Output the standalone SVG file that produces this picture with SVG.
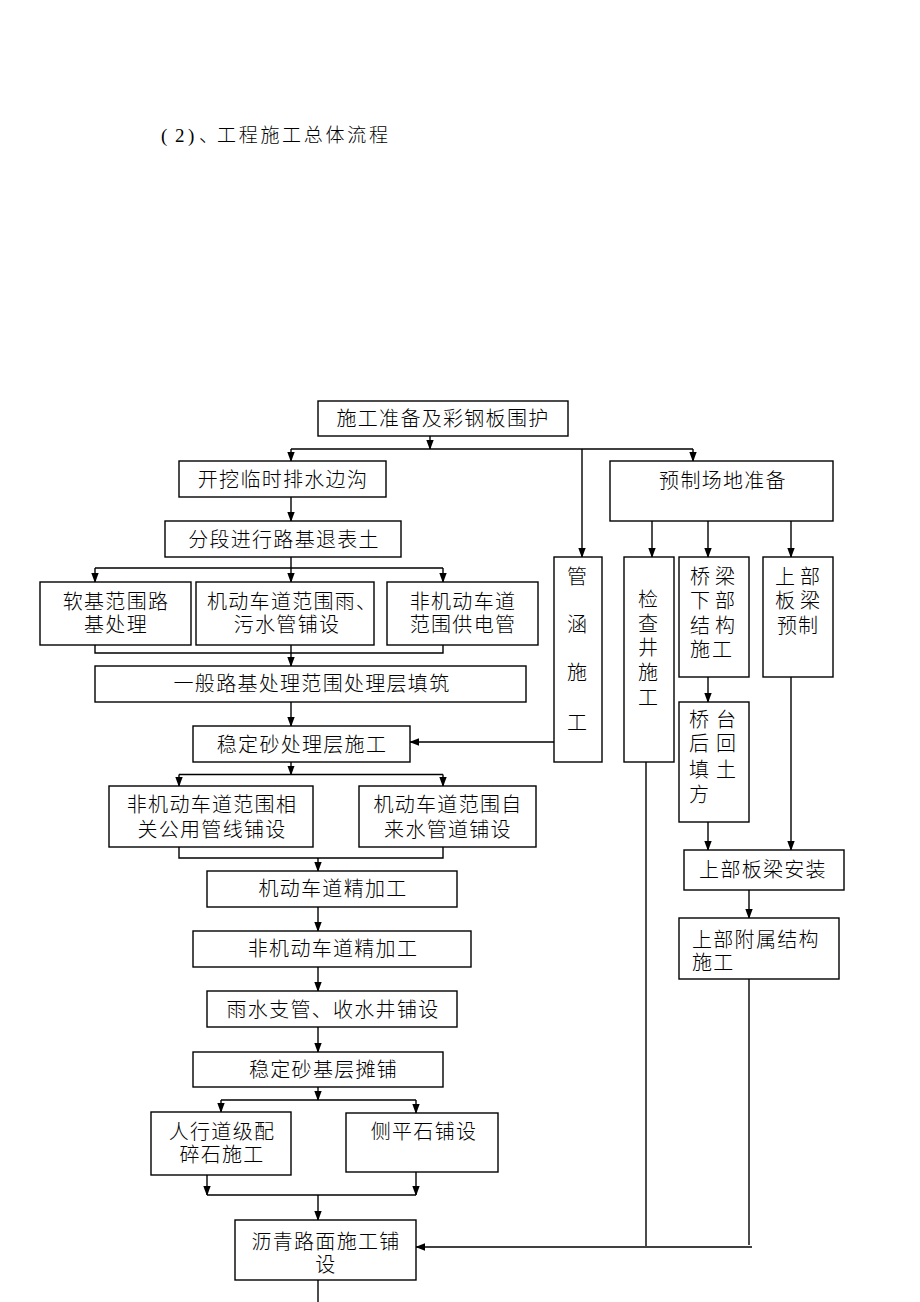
<svg xmlns="http://www.w3.org/2000/svg" width="920" height="1302" viewBox="0 0 920 1302">
<style>
.b{fill:#fff;stroke:#000;stroke-width:1.4}
.t{font-family:"Liberation Serif","Noto Sans CJK SC",serif;font-size:20px;font-weight:300;letter-spacing:1.3px;fill:#000;dominant-baseline:central}
.m{text-anchor:middle}
.c{fill:none;stroke:#000;stroke-width:1.4}
.v{font-family:"Liberation Serif","Noto Sans CJK SC",serif;font-size:20px;font-weight:300;fill:#000;dominant-baseline:central;text-anchor:middle}
</style>
<defs>
<marker id="ah" markerWidth="9" markerHeight="8" refX="9" refY="4" orient="auto" markerUnits="userSpaceOnUse"><path d="M0,0.3 L10,4 L0,7.7 z" fill="#000"/></marker>
</defs>
<rect width="920" height="1302" fill="#fff"/>
<text id="title" class="v" style="text-anchor:start;font-size:19px" y="135"><tspan x="161">(</tspan><tspan x="175">2</tspan><tspan x="188">)</tspan><tspan x="199">、</tspan><tspan x="217" letter-spacing="2.7">工程施工总体流程</tspan></text>

<g id="connectors">
<path class="c" d="M430,436 V449" marker-end="url(#ah)"/>
<path class="c" d="M291,449 H693"/>
<path class="c" d="M291,449 V461" marker-end="url(#ah)"/>
<path class="c" d="M582,449 V557" marker-end="url(#ah)"/>
<path class="c" d="M693,449 V461" marker-end="url(#ah)"/>
<path class="c" d="M291,497 V521" marker-end="url(#ah)"/>
<path class="c" d="M291,557 V568 M95,568 H443"/>
<path class="c" d="M95,568 V582" marker-end="url(#ah)"/>
<path class="c" d="M291,568 V582" marker-end="url(#ah)"/>
<path class="c" d="M443,568 V582" marker-end="url(#ah)"/>
<path class="c" d="M95,645 V653 H443 V645"/>
<path class="c" d="M291,645 V666" marker-end="url(#ah)"/>
<path class="c" d="M291,702 V726" marker-end="url(#ah)"/>
<path class="c" d="M554,742 H410" marker-end="url(#ah)"/>
<path class="c" d="M291,762 V774.5" marker-end="url(#ah)"/>
<path class="c" d="M179,774.5 H443"/>
<path class="c" d="M179,774.5 V786" marker-end="url(#ah)"/>
<path class="c" d="M443,774.5 V786" marker-end="url(#ah)"/>
<path class="c" d="M179,847 V858 H443 V847"/>
<path class="c" d="M318,858 V871" marker-end="url(#ah)"/>
<path class="c" d="M318,907 V931" marker-end="url(#ah)"/>
<path class="c" d="M318,967 V991" marker-end="url(#ah)"/>
<path class="c" d="M318,1027 V1052" marker-end="url(#ah)"/>
<path class="c" d="M318,1087 V1100" marker-end="url(#ah)"/>
<path class="c" d="M221,1100 H416"/>
<path class="c" d="M221,1100 V1112" marker-end="url(#ah)"/>
<path class="c" d="M416,1100 V1113" marker-end="url(#ah)"/>
<path class="c" d="M207,1175 V1195" marker-end="url(#ah)"/>
<path class="c" d="M416,1172 V1195" marker-end="url(#ah)"/>
<path class="c" d="M207,1195 H416"/>
<path class="c" d="M318,1195 V1220" marker-end="url(#ah)"/>
<path class="c" d="M318,1280 V1302"/>
<path class="c" d="M652,521 V557" marker-end="url(#ah)"/>
<path class="c" d="M708,521 V557" marker-end="url(#ah)"/>
<path class="c" d="M791,521 V557" marker-end="url(#ah)"/>
<path class="c" d="M708,677 V702" marker-end="url(#ah)"/>
<path class="c" d="M708,822 V850" marker-end="url(#ah)"/>
<path class="c" d="M791,677 V850" marker-end="url(#ah)"/>
<path class="c" d="M749,890 V918" marker-end="url(#ah)"/>
<path class="c" d="M646,762 V1246"/>
<path class="c" d="M749,979 V1245"/>
<path class="c" d="M752,1247 H416" marker-end="url(#ah)"/>
</g>

<g id="n1"><rect class="b" x="318" y="401" width="250" height="35"/><text class="t m" x="443" y="419">施工准备及彩钢板围护</text></g>
<g id="n2"><rect class="b" x="179" y="461" width="207" height="36"/><text class="t m" x="283" y="480">开挖临时排水边沟</text></g>
<g id="n3"><rect class="b" x="165" y="521" width="236" height="36"/><text class="t m" x="284" y="540">分段进行路基退表土</text></g>
<g id="n4"><rect class="b" x="40" y="582" width="151" height="63"/><text class="t m" x="116" y="602">软基范围路</text><text class="t m" x="116" y="625">基处理</text></g>
<g id="n5"><rect class="b" x="196" y="582" width="178" height="63"/><text class="t" x="207" y="602">机动车道范围雨、</text><text class="t m" x="287" y="625">污水管铺设</text></g>
<g id="n6"><rect class="b" x="387" y="582" width="151" height="63"/><text class="t m" x="463" y="602">非机动车道</text><text class="t m" x="463" y="625">范围供电管</text></g>
<g id="n7"><rect class="b" x="95" y="666" width="431" height="36"/><text class="t m" x="312" y="684">一般路基处理范围处理层填筑</text></g>
<g id="n8"><rect class="b" x="193" y="726" width="217" height="36"/><text class="t m" x="302" y="745">稳定砂处理层施工</text></g>
<g id="n9"><rect class="b" x="109" y="786" width="204" height="61"/><text class="t m" x="212" y="805">非机动车道范围相</text><text class="t m" x="212" y="830">关公用管线铺设</text></g>
<g id="n10"><rect class="b" x="359" y="786" width="177" height="61"/><text class="t m" x="448" y="805">机动车道范围自</text><text class="t m" x="448" y="830">来水管道铺设</text></g>
<g id="n11"><rect class="b" x="207" y="871" width="250" height="36"/><text class="t m" x="333" y="889">机动车道精加工</text></g>
<g id="n12"><rect class="b" x="193" y="931" width="278" height="36"/><text class="t m" x="333" y="949">非机动车道精加工</text></g>
<g id="n13"><rect class="b" x="207" y="991" width="250" height="36"/><text class="t m" x="333" y="1010">雨水支管、收水井铺设</text></g>
<g id="n14"><rect class="b" x="193" y="1052" width="250" height="35"/><text class="t" x="249" y="1070">稳定砂基层摊铺</text></g>
<g id="n15"><rect class="b" x="151" y="1112" width="140" height="63"/><text class="t m" x="222" y="1132">人行道级配</text><text class="t m" x="222" y="1155">碎石施工</text></g>
<g id="n16"><rect class="b" x="346" y="1113" width="152" height="59"/><text class="t m" x="424" y="1132">侧平石铺设</text></g>
<g id="n17"><rect class="b" x="235" y="1220" width="181" height="60"/><text class="t m" x="326" y="1242">沥青路面施工铺</text><text class="t m" x="326" y="1265">设</text></g>

<g id="n18"><rect class="b" x="554" y="557" width="48" height="205"/><text class="v"><tspan x="577" y="577">管</tspan><tspan x="577" y="625">涵</tspan><tspan x="577" y="673">施</tspan><tspan x="577" y="723">工</tspan></text></g>
<g id="n19"><rect class="b" x="624" y="557" width="50" height="205"/><text class="v"><tspan x="648" y="600">检</tspan><tspan x="648" y="624">查</tspan><tspan x="648" y="648">井</tspan><tspan x="648" y="673">施</tspan><tspan x="648" y="698">工</tspan></text></g>
<g id="n20"><rect class="b" x="610" y="461" width="223" height="60"/><text class="t m" x="723" y="481">预制场地准备</text></g>
<g id="n21"><rect class="b" x="679" y="557" width="70" height="120"/><text class="v"><tspan x="700" y="577">桥</tspan><tspan x="725" y="577">梁</tspan><tspan x="700" y="601">下</tspan><tspan x="725" y="601">部</tspan><tspan x="700" y="626">结</tspan><tspan x="725" y="626">构</tspan><tspan x="700" y="650">施</tspan><tspan x="722" y="650">工</tspan></text></g>
<g id="n22"><rect class="b" x="763" y="557" width="70" height="120"/><text class="v"><tspan x="785" y="577">上</tspan><tspan x="810" y="577">部</tspan><tspan x="785" y="601">板</tspan><tspan x="810" y="601">梁</tspan><tspan x="787" y="626">预</tspan><tspan x="808" y="626">制</tspan></text></g>
<g id="n23"><rect class="b" x="679" y="702" width="70" height="120"/><text class="v"><tspan x="699" y="720">桥</tspan><tspan x="726" y="720">台</tspan><tspan x="699" y="744">后</tspan><tspan x="726" y="744">回</tspan><tspan x="699" y="770">填</tspan><tspan x="726" y="770">土</tspan><tspan x="699" y="795">方</tspan></text></g>
<g id="n24"><rect class="b" x="684" y="850" width="160" height="40"/><text class="t m" x="763" y="870">上部板梁安装</text></g>
<g id="n25"><rect class="b" x="679" y="918" width="160" height="61"/><text class="t" x="692" y="940" letter-spacing="2">上部附属结构</text><text class="t" x="692" y="963" letter-spacing="2">施工</text></g>
</svg>
